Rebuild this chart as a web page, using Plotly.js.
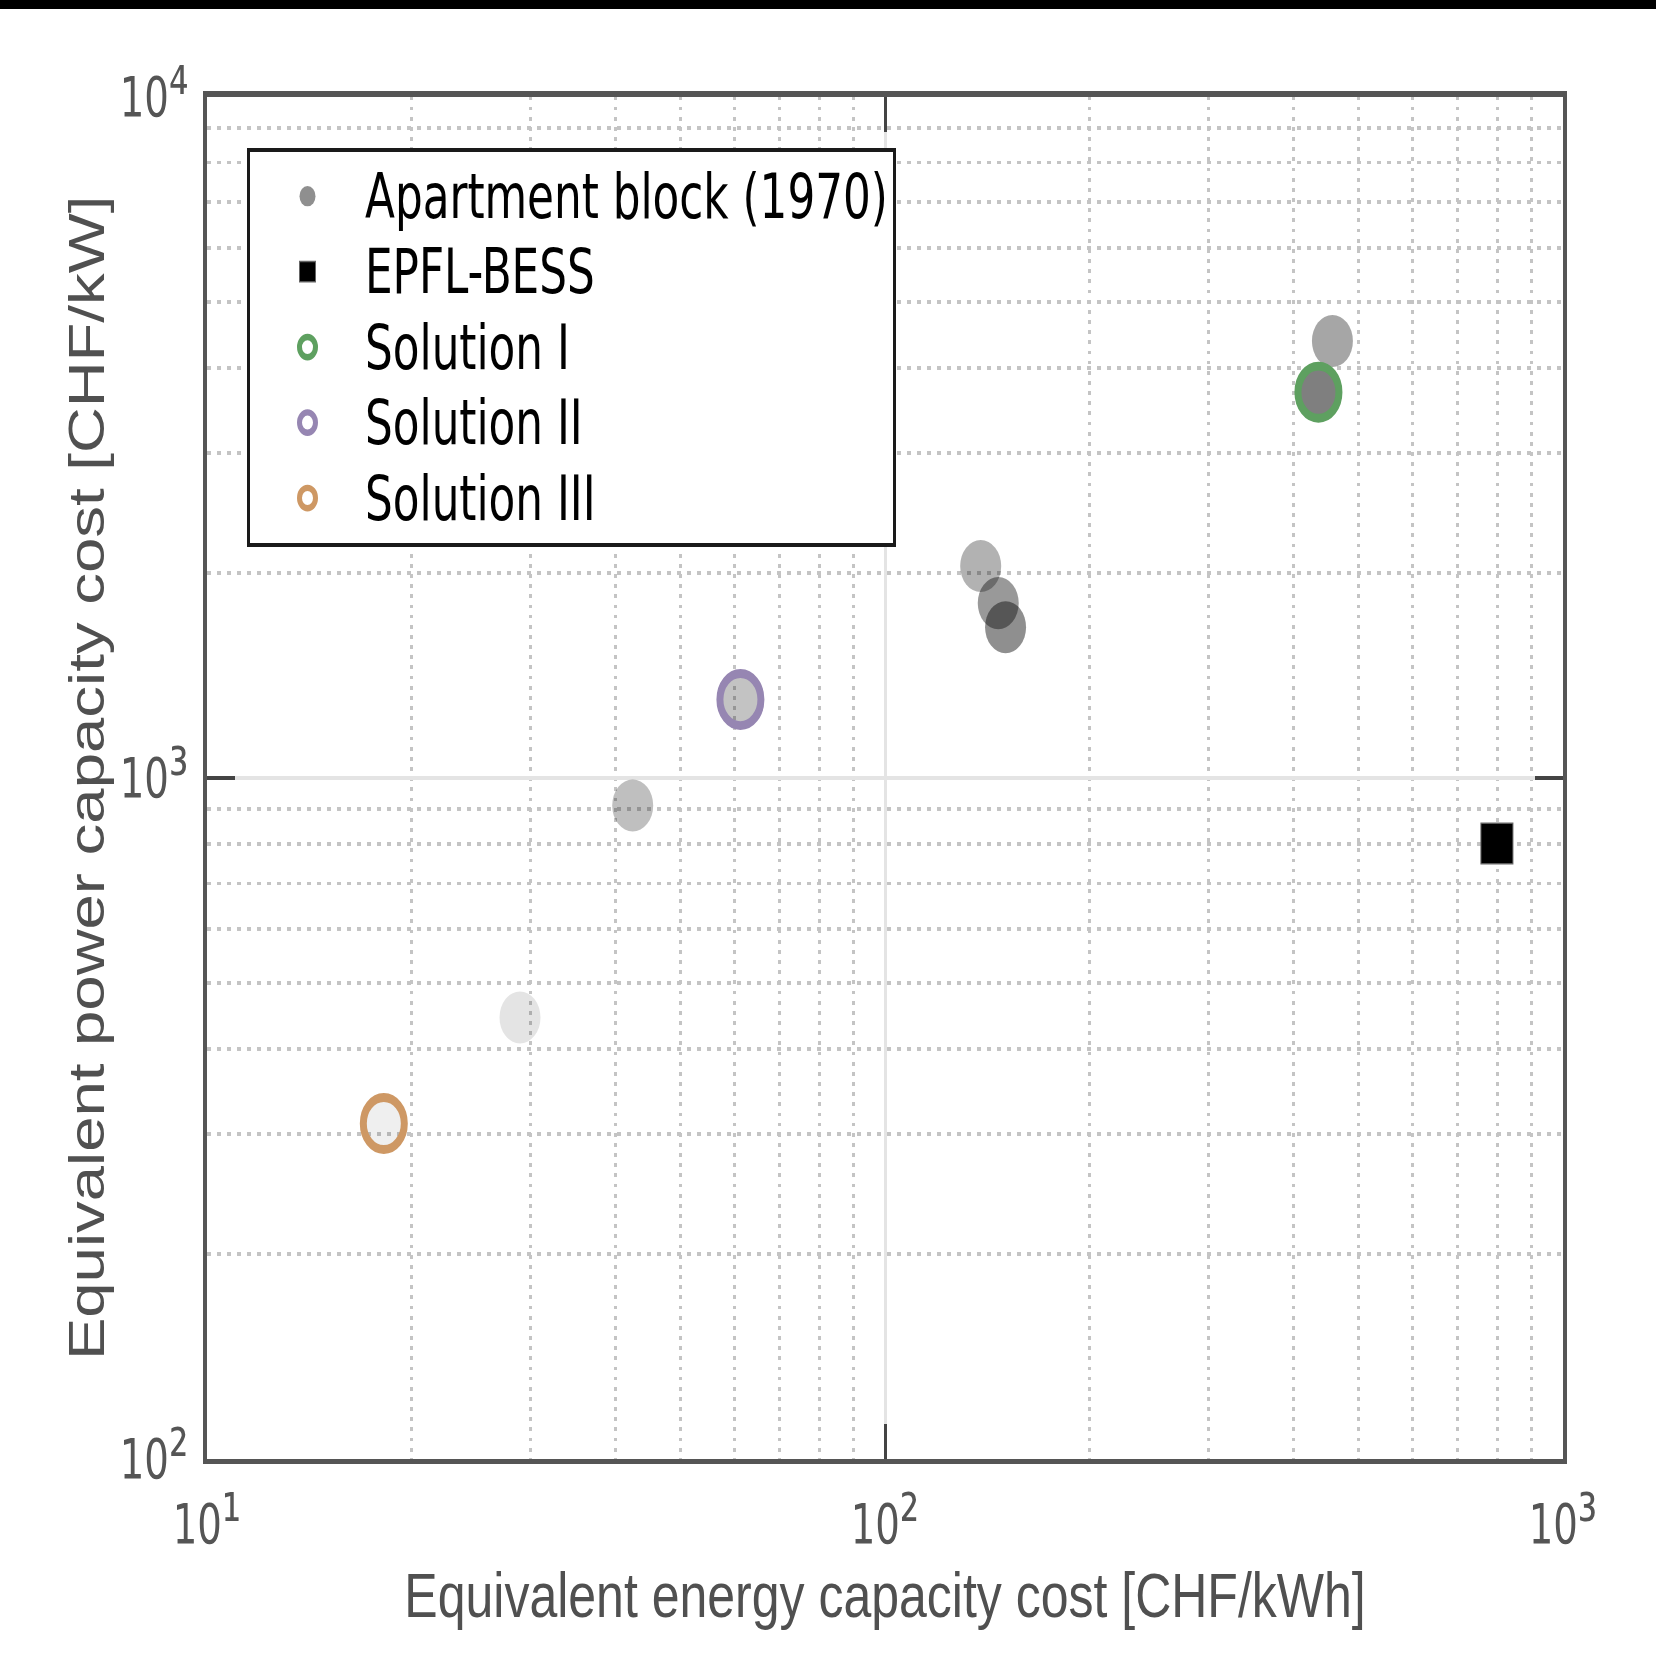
<!DOCTYPE html>
<html>
<head>
<meta charset="utf-8">
<script src="https://cdn.plot.ly/plotly-3.0.1.min.js"></script>
<style>
  html, body { margin: 0; padding: 0; background: #ffffff; overflow: hidden; }
  #wrap { width: 1656px; height: 1665px; overflow: hidden; position: relative; }
  #chart { width: 1656px; height: 1311px; transform: scaleY(1.27); transform-origin: 0 0; }
</style>
</head>
<body>
<div id="wrap"><div id="chart"></div></div>
<script>
// ---- data ----
const apartmentEnergyCost = [150.6, 457, 435.8, 138.4, 146.9, 61.2, 42.45, 28.95, 18.23];
const apartmentPowerCost  = [1664, 4377, 3682, 2046, 1805, 1303, 911, 445, 311];
const apartmentShade      = [0.44, 0.35, 0.50, 0.30, 0.40, 0.235, 0.25, 0.105, 0.063];

const bessEnergyCost = [799];
const bessPowerCost  = [801];

const sol1EnergyCost = [435.8];
const sol1PowerCost  = [3682];
const sol2EnergyCost = [61.2];
const sol2PowerCost  = [1303];
const sol3EnergyCost = [18.23];
const sol3PowerCost  = [311];

const seriesNames = ['Apartment block (1970)', 'EPFL-BESS', 'Solution I', 'Solution II', 'Solution III'];

const xTickVals = [10, 100, 1000];
const xTickExp  = ['\u00B9', '\u00B2', '\u00B3'];
const yTickVals = [100, 1000, 10000];
const yTickExp  = ['\u00B2', '\u00B3', '\u2074'];

const xTitle = 'Equivalent energy capacity cost [CHF/kWh]';
const yTitle = 'Equivalent power capacity cost [CHF/kW]';

// minor grid positions (2..9 within each decade)
function minorVals(decades) {
  const out = [];
  decades.forEach(d => { for (let k = 2; k <= 9; k++) out.push(d * k); });
  return out;
}

const narrow = '"Liberation Sans Narrow", "Arial Narrow", "DejaVu Sans Condensed", "Liberation Sans", Arial, sans-serif';
const regular = '"Liberation Sans", Arial, Helvetica, sans-serif';

// tick label "10" followed by an enlarged superscript exponent
const powerLabel = (e) => '10<span style="font-size:54px">' + e + '</span>';
// legend label: larger glyphs than the legend row pitch
const legendLabel = (s) => '<span style="font-size:48.6px">' + s + '</span>';

const ringStyle = (color) => ({
  size: 41, color: 'rgba(0,0,0,0)', line: { color: color, width: 7 }
});

const traces = [
  {
    type: 'scatter', mode: 'markers', name: legendLabel(seriesNames[0]),
    x: apartmentEnergyCost, y: apartmentPowerCost,
    marker: { symbol: 'circle', size: 41,
      color: apartmentShade.map(a => 'rgba(0,0,0,' + a + ')'),
      line: { width: 0 } }
  },
  {
    type: 'scatter', mode: 'markers', name: legendLabel(seriesNames[1]),
    x: bessEnergyCost, y: bessPowerCost,
    marker: { symbol: 'square', size: 32, color: '#000000', line: { color: '#666666', width: 1 } }
  },
  {
    type: 'scatter', mode: 'markers', name: legendLabel(seriesNames[2]),
    x: sol1EnergyCost, y: sol1PowerCost, marker: ringStyle('rgb(94,160,96)')
  },
  {
    type: 'scatter', mode: 'markers', name: legendLabel(seriesNames[3]),
    x: sol2EnergyCost, y: sol2PowerCost, marker: ringStyle('rgb(150,134,178)')
  },
  {
    type: 'scatter', mode: 'markers', name: legendLabel(seriesNames[4]),
    x: sol3EnergyCost, y: sol3PowerCost, marker: ringStyle('rgb(206,152,100)')
  }
];

const axisCommon = {
  type: 'log',
  showline: true, linecolor: '#555555', linewidth: 4, mirror: 'ticks',
  ticks: 'inside', ticklen: 28, tickwidth: 3, tickcolor: '#444444',
  tickmode: 'array',
  showgrid: true, gridcolor: '#e4e4e4', gridwidth: 3,
  zeroline: false,
  tickfont: { family: narrow, size: 43, color: '#555555' },
  automargin: false
};

const layout = {
  width: 1656, height: 1311,
  margin: { l: 207, r: 93, t: 76, b: 162, pad: 0 },
  paper_bgcolor: '#ffffff', plot_bgcolor: '#ffffff',
  showlegend: true,
  font: { family: regular, color: '#555555' },
  xaxis: Object.assign({}, axisCommon, {
    range: [1, 3],
    tickvals: xTickVals, ticktext: xTickExp.map(powerLabel),
    ticklabelstandoff: 10,
    minor: { tickmode: 'array', tickvals: minorVals([10, 100]), ticks: '',
      showgrid: true, gridcolor: '#c4c4c4', gridwidth: 3, griddash: '3px,5px' },
    title: { text: xTitle, font: { family: regular, size: 50, color: '#505050' }, standoff: 13 }
  }),
  yaxis: Object.assign({}, axisCommon, {
    range: [2, 4],
    tickvals: yTickVals, ticktext: yTickExp.map(powerLabel),
    ticklabelstandoff: 6,
    minor: { tickmode: 'array', tickvals: minorVals([100, 1000]), ticks: '',
      showgrid: true, gridcolor: '#c4c4c4', gridwidth: 3, griddash: '4px,6px' },
    title: { text: yTitle, font: { family: regular, size: 50, color: '#505050' }, standoff: 0 }
  }),
  legend: {
    x: 0.0295, y: 0.962, xanchor: 'left', yanchor: 'top',
    bgcolor: '#ffffff', bordercolor: '#1a1a1a', borderwidth: 3,
    font: { family: narrow, size: 43.4, color: '#000000' },
    itemwidth: 105, tracegroupgap: 0
  },
  shapes: [
    { type: 'rect', xref: 'paper', yref: 'paper', x0: -0.16, x1: 1.08, y0: 1.0643, y1: 1.08,
      fillcolor: '#000000', line: { width: 0 }, layer: 'above' }
  ]
};

Plotly.newPlot('chart', traces, layout, { displayModeBar: false, staticPlot: true });
</script>
</body>
</html>
